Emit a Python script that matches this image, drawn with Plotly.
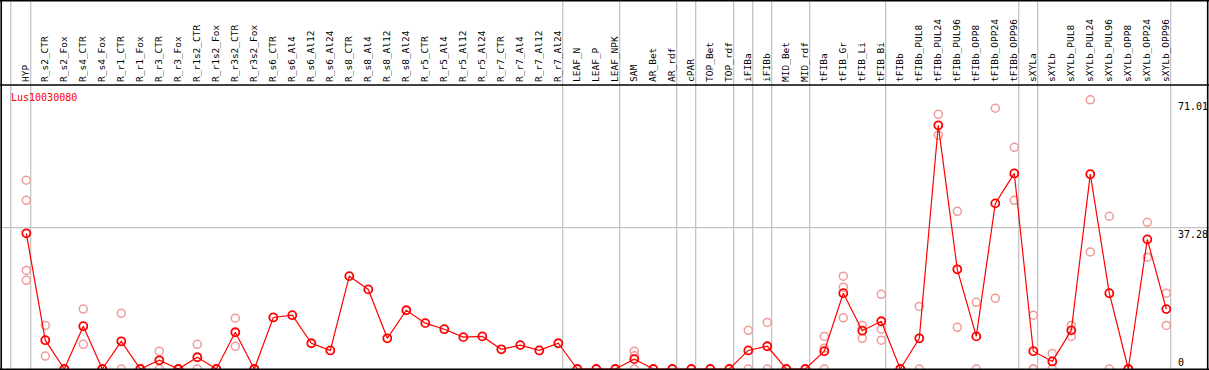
import plotly.graph_objects as go

categories = ["HYP", "R_s2_CTR", "R_s2_Fox", "R_s4_CTR", "R_s4_Fox", "R_r1_CTR", "R_r1_Fox",
              "R_r3_CTR", "R_r3_Fox", "R_r1s2_CTR", "R_r1s2_Fox", "R_r3s2_CTR", "R_r3s2_Fox",
              "R_s6_CTR", "R_s6_Al4", "R_s6_Al12", "R_s6_Al24", "R_s8_CTR", "R_s8_Al4", "R_s8_Al12",
              "R_s8_Al24", "R_r5_CTR", "R_r5_Al4", "R_r5_Al12", "R_r5_Al24", "R_r7_CTR", "R_r7_Al4",
              "R_r7_Al12", "R_r7_Al24", "LEAF_N", "LEAF_P", "LEAF_NPK", "SAM", "AR_Bet", "AR_rdf",
              "cPAR", "TOP_Bet", "TOP_rdf", "iFIBa", "iFIBb", "MID_Bet", "MID_rdf", "tFIBa",
              "tFIB_Gr", "tFIB_Li", "tFIB_Bi", "tFIBb", "tFIBb_PUL8", "tFIBb_PUL24", "tFIBb_PUL96",
              "tFIBb_OPP8", "tFIBb_OPP24", "tFIBb_OPP96", "sXYLa", "sXYLb", "sXYLb_PUL8",
              "sXYLb_PUL24", "sXYLb_PUL96", "sXYLb_OPP8", "sXYLb_OPP24", "sXYLb_OPP96"]

mean_values = [35.8, 7.6, 0, 11.3, 0, 7.3, 0, 2.3, 0, 3.1, 0, 9.7, 0,
               13.6, 14.2, 6.8, 4.9, 24.5, 21.0, 8.1, 15.5, 12.1, 10.5, 8.4, 8.6,
               5.2, 6.3, 4.9, 6.8, 0, 0, 0, 2.6, 0, 0, 0, 0, 0, 4.9, 6.0, 0, 0,
               4.7, 20.0, 10.1, 12.6, 0, 8.1, 64.3, 26.3, 8.6, 43.7, 51.6,
               4.7, 2.0, 10.2, 51.4, 20.0, 0, 34.2, 15.8]

replicates = [[49.8, 44.5, 26.0, 23.4], [11.5, 3.4], [0, 0], [15.8, 6.5], [0, 0], [14.7, 0], [0, 0],
              [4.7, 0], [0, 0], [6.5, 0], [0, 0], [13.4, 6.0], [0, 0],
              [], [], [], [], [], [], [], [], [], [], [], [], [], [], [], [],
              [], [], [], [4.7, 3.5, 0], [], [], [], [], [], [10.2, 0], [12.3, 0], [], [],
              [8.6, 5.5, 0], [24.5, 21.6, 13.5], [11.5, 8.1], [19.7, 10.5, 7.6], [0, 0],
              [16.5, 0], [67.2, 61.7], [41.6, 11.0], [17.6, 0], [68.8, 18.7], [58.5, 44.5],
              [14.2, 0, 0], [4.1, 0], [11.5, 8.6], [71.01, 30.9], [40.3, 0], [0, 0],
              [38.7, 29.5], [20.0, 11.5]]

group_sizes = [1, 28, 3, 3, 1, 2, 1, 1, 2, 4, 7, 1, 7]
y_tick_values = [0, 37.28, 71.01]
y_tick_labels = ["0", "37.28", "71.01"]
gene_name = "Lus10030080"

W, H = 1209, 370
TOP = 85
PX_PER_UNIT = 3.79
ZERO_PX = 369
plot_h = H - TOP
y_lo = -(H - ZERO_PX) / PX_PER_UNIT
y_hi = (ZERO_PX - TOP) / PX_PER_UNIT
x0_px, step_px = 26.3, 19.0
x_lo = -x0_px / step_px
x_hi = (W - x0_px) / step_px

idx = list(range(len(categories)))
rep_x, rep_y = [], []
for i, reps in enumerate(replicates):
    for v in reps:
        rep_x.append(i)
        rep_y.append(v)

fig = go.Figure()
fig.add_trace(go.Scatter(x=rep_x, y=rep_y, mode="markers",
                         marker=dict(symbol="circle-open", size=8, color="#f09a9a",
                                     line=dict(width=1.5, color="#f09a9a")),
                         hoverinfo="skip", showlegend=False))
fig.add_trace(go.Scatter(x=idx, y=mean_values, mode="lines+markers",
                         line=dict(color="#ff0000", width=1.2),
                         marker=dict(symbol="circle-open", size=8, color="#ff0000",
                                     line=dict(width=1.8, color="#ff0000")),
                         showlegend=False))

shapes = []
grey = "#c4c4c4"
top_paper = H / plot_h
# group separators
pos = -1
sep = [pos + 0.18]
for g in group_sizes:
    pos += g
    sep.append(pos + 0.23)
for s in sep:
    shapes.append(dict(type="line", xref="x", yref="paper", x0=s, x1=s, y0=0, y1=top_paper,
                       line=dict(color=grey, width=1.3), layer="below"))
# horizontal grid
shapes.append(dict(type="line", xref="paper", yref="y", x0=0, x1=1, y0=y_tick_values[1],
                   y1=y_tick_values[1], line=dict(color=grey, width=1.3), layer="below"))
# black borders
blk = dict(color="black", width=1.6)
shapes += [
    dict(type="line", xref="paper", yref="paper", x0=0, x1=1, y0=top_paper - 0.6 / plot_h,
         y1=top_paper - 0.6 / plot_h, line=blk),
    dict(type="line", xref="paper", yref="paper", x0=0, x1=1, y0=1, y1=1, line=blk),
    dict(type="line", xref="paper", yref="paper", x0=0, x1=1, y0=0.6 / plot_h, y1=0.6 / plot_h, line=blk),
    dict(type="line", xref="paper", yref="paper", x0=1.2 / W, x1=1.2 / W, y0=0, y1=top_paper, line=blk),
    dict(type="line", xref="paper", yref="paper", x0=(W - 1.3) / W, x1=(W - 1.3) / W, y0=0,
         y1=top_paper, line=blk),
]

annotations = [dict(text=gene_name, xref="paper", yref="paper", x=9 / W, y=(H - 97) / plot_h,
                    xanchor="left", yanchor="middle", showarrow=False,
                    font=dict(family="DejaVu Sans Mono", size=10, color="#ff0000"))]
for v, t in zip(y_tick_values, y_tick_labels):
    annotations.append(dict(text=t, xref="paper", yref="y", x=1177 / W, y=v,
                            xanchor="left", yanchor="bottom" if v == 0 else "top",
                            showarrow=False, borderpad=0,
                            font=dict(family="DejaVu Sans Mono", size=10, color="black")))

fig.update_layout(
    width=W, height=H, margin=dict(l=0, r=0, t=TOP, b=0),
    paper_bgcolor="white", plot_bgcolor="white",
    xaxis=dict(range=[x_lo, x_hi], side="top", tickmode="array", tickvals=idx,
               ticktext=categories, tickangle=-90, showgrid=False, zeroline=False,
               showline=False, ticks="", ticklabelstandoff=2,
               tickfont=dict(family="DejaVu Sans Mono", size=9.5, color="black")),
    yaxis=dict(range=[y_lo, y_hi], showgrid=False, zeroline=False, showticklabels=False,
               ticks=""),
    shapes=shapes, annotations=annotations,
)

fig.write_html("out.html", config={"displayModeBar": False},
               post_script="document.body.style.margin='0';document.body.style.overflow='hidden';")
